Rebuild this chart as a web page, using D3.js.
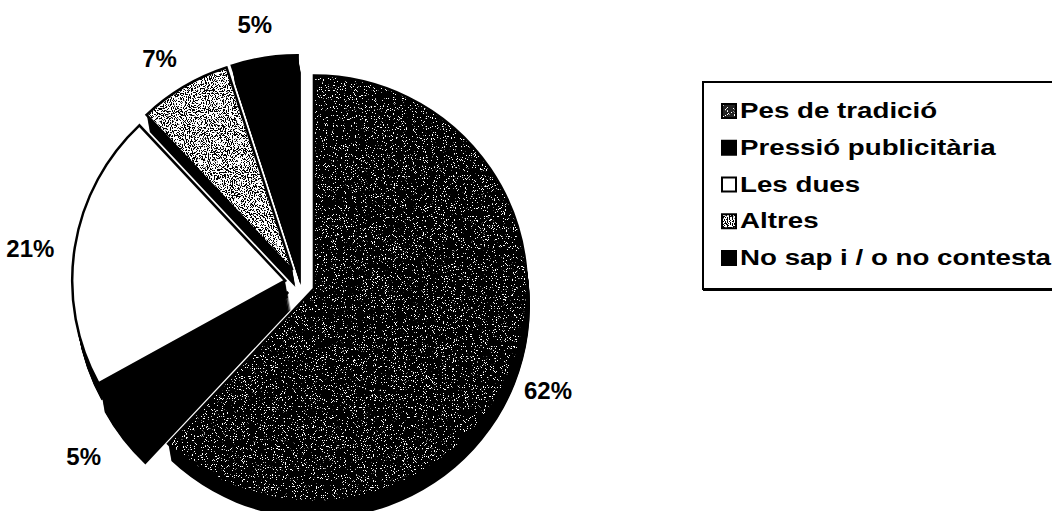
<!DOCTYPE html>
<html>
<head>
<meta charset="utf-8">
<script src="https://cdn.jsdelivr.net/npm/d3@7"></script>
<style>
  html, body { margin: 0; padding: 0; background: #fff; }
  svg { display: block; }
</style>
</head>
<body>
<svg id="chart" width="1052" height="511"></svg>
<script>
// Survey answers, in drawing order clockwise from 12 o'clock
const categories = ["Pes de tradició", "Pressió publicitària", "Les dues", "Altres", "No sap i / o no contesta"];
const values = [62, 5, 21, 7, 5];
const valueLabels = ["62%", "5%", "21%", "7%", "5%"];
// fill style of each slice: dark grain, solid black, white, light grain, solid black
const fillKinds = ["dark", "black", "white", "light", "black"];

const svg = d3.select("#chart");
const defs = svg.append("defs");

// grain textures built from turbulence noise
const darkGrain = defs.append("filter").attr("id", "grainDark")
  .attr("x", "0").attr("y", "0").attr("width", "1").attr("height", "1");
darkGrain.append("feTurbulence").attr("type", "fractalNoise").attr("baseFrequency", 0.9)
  .attr("numOctaves", 2).attr("seed", 7).attr("result", "noise");
darkGrain.append("feColorMatrix").attr("in", "noise").attr("type", "matrix")
  .attr("values", "0 0 0 0 1  0 0 0 0 1  0 0 0 0 1  30 0 0 0 -19.3");

const lightGrain = defs.append("filter").attr("id", "grainLight")
  .attr("x", "0").attr("y", "0").attr("width", "1").attr("height", "1");
lightGrain.append("feTurbulence").attr("type", "fractalNoise").attr("baseFrequency", 0.95)
  .attr("numOctaves", 2).attr("seed", 3).attr("result", "noise");
lightGrain.append("feColorMatrix").attr("in", "noise").attr("type", "matrix")
  .attr("values", "0 0 0 0 0  0 0 0 0 0  0 0 0 0 0  -30 0 0 0 14.4");

const baseFill = { dark: "#000", black: "#000", white: "#fff", light: "#fff" };
const grainFilter = { dark: "url(#grainDark)", light: "url(#grainLight)" };

// pie geometry
const cx = 300, cy = 283, R = 213;
const explode = 15;          // every slice pulled out from the centre
const depth = [3, 17];       // extrusion of the pie body
const labelOrigin = [-3, 8]; // labels ring the middle of the extruded body
const labelR = 270;

const pie = d3.pie().sort(null).value(d => d).startAngle(0).endAngle(2 * Math.PI);
const arcs = pie(values);
const arc = d3.arc().innerRadius(0).outerRadius(R);

const mid = a => (a.startAngle + a.endAngle) / 2;
const pullOut = a => [Math.sin(mid(a)) * explode, -Math.cos(mid(a)) * explode];

const g = svg.append("g").attr("transform", `translate(${cx},${cy})`);

// side walls: the slice shape swept along the depth vector
const steps = d3.range(0, 18).map(i => i / 17);
const walls = g.append("g").attr("class", "walls");
arcs.forEach(a => {
  const [ox, oy] = pullOut(a);
  walls.selectAll(null).data(steps).enter().append("path")
    .attr("d", arc(a))
    .attr("transform", t => `translate(${ox + depth[0] * t},${oy + depth[1] * t})`)
    .attr("fill", "#000");
});

// top faces
const faces = g.append("g").attr("class", "faces");
arcs.forEach((a, i) => {
  const [ox, oy] = pullOut(a);
  const kind = fillKinds[i];
  const clipId = `slice-clip-${i}`;
  defs.append("clipPath").attr("id", clipId)
    .append("path").attr("d", arc(a)).attr("transform", `translate(${ox},${oy})`);

  faces.append("path")
    .attr("d", arc(a))
    .attr("transform", `translate(${ox},${oy})`)
    .attr("fill", baseFill[kind]);

  if (grainFilter[kind]) {
    faces.append("rect")
      .attr("x", -R - 30).attr("y", -R - 30)
      .attr("width", 2 * R + 60).attr("height", 2 * R + 60)
      .attr("fill", "#000")
      .attr("filter", grainFilter[kind])
      .attr("clip-path", `url(#${clipId})`);
  }

  faces.append("path")
    .attr("d", arc(a))
    .attr("transform", `translate(${ox},${oy})`)
    .attr("fill", "none")
    .attr("stroke", "#000")
    .attr("stroke-width", 2.5)
    .attr("stroke-linejoin", "miter");
});

// percentage labels outside the slices
g.append("g").attr("class", "labels")
  .attr("transform", `translate(${labelOrigin[0]},${labelOrigin[1]})`)
  .selectAll("text").data(arcs).enter().append("text")
  .attr("x", a => Math.sin(mid(a)) * labelR)
  .attr("y", a => -Math.cos(mid(a)) * labelR)
  .attr("text-anchor", "middle")
  .attr("dominant-baseline", "central")
  .attr("font-family", "'Liberation Sans', Arial, sans-serif")
  .attr("font-weight", "bold")
  .attr("font-size", 24)
  .attr("fill", "#000")
  .text((a, i) => valueLabels[i]);

// legend
const legend = svg.append("g").attr("class", "legend");
const lgX = 703, lgY = 82, lgW = 400, lgH = 207;
legend.append("rect")
  .attr("x", lgX).attr("y", lgY).attr("width", lgW).attr("height", lgH)
  .attr("fill", "#fff").attr("stroke", "#000").attr("stroke-width", 2);
legend.append("line")
  .attr("x1", lgX).attr("x2", lgX + lgW)
  .attr("y1", lgY + lgH + 1).attr("y2", lgY + lgH + 1)
  .attr("stroke", "#000").attr("stroke-width", 2);

const rowY = d3.scalePoint().domain(categories).range([118, 265]);
const sw = 14;
categories.forEach((c, i) => {
  const y = rowY(c);
  const kind = fillKinds[i];
  const row = legend.append("g");
  const clipId = `swatch-clip-${i}`;
  defs.append("clipPath").attr("id", clipId)
    .append("rect").attr("x", 722).attr("y", y - sw).attr("width", sw).attr("height", sw);
  row.append("rect")
    .attr("x", 722).attr("y", y - sw).attr("width", sw).attr("height", sw)
    .attr("fill", kind === "dark" ? "#222" : baseFill[kind]);
  if (grainFilter[kind]) {
    row.append("rect")
      .attr("x", 718).attr("y", y - sw - 4).attr("width", sw + 8).attr("height", sw + 8)
      .attr("fill", "#000")
      .attr("filter", grainFilter[kind])
      .attr("clip-path", `url(#${clipId})`);
  }
  row.append("rect")
    .attr("x", 722).attr("y", y - sw).attr("width", sw).attr("height", sw)
    .attr("fill", "none").attr("stroke", "#000").attr("stroke-width", 2);
  row.append("text")
    .attr("transform", `translate(740,${y}) scale(1.26,1)`)
    .attr("font-family", "'Liberation Sans', Arial, sans-serif")
    .attr("font-weight", "bold")
    .attr("font-size", 22)
    .attr("fill", "#000")
    .text(c);
});
</script>
</body>
</html>
